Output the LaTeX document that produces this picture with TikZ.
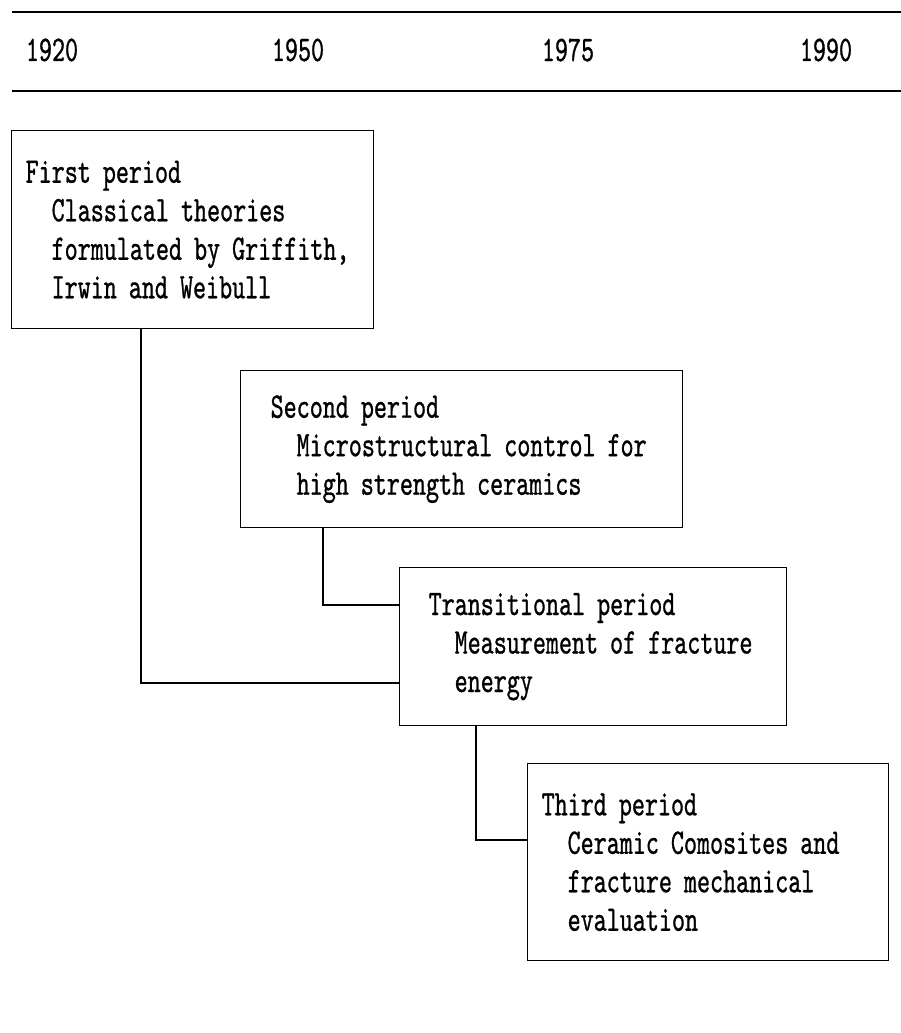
\documentclass[tikz,border=0pt]{standalone}
\usepackage{fontspec}
\newfontfamily\periodfont{lmmono10-regular}[Extension=.otf,FakeStretch=0.69,FakeBold=0.8]
\usepackage{tikz}
\usetikzlibrary{positioning}
\tikzset{>=latex}
\tikzstyle{period} = [rectangle, draw, line width=1.3pt, anchor=north west, align=left, font={\fontsize{36}{38.5}\periodfont}]
\tikzstyle{year} = [font={\fontsize{36}{38.5}\periodfont}]
\tikzstyle{rule} = [line width=2.2pt]
\tikzstyle{link} = [-, line width=1.3pt]
\newcommand{\ind}{\hspace*{26pt}}

\begin{document}
\begin{tikzpicture}[x=1pt, y=-1pt]
\useasboundingbox (0,0) rectangle (901,1033);
% time axis
\draw [rule] (12,12) -- (901,12);
\draw [rule] (12,91) -- (901,91);
\node [year] (y1920) at (52,50) {1920};
\node [year] (y1950) at (298,50) {1950};
\node [year] (y1975) at (568,50) {1975};
\node [year] (y1990) at (826,50) {1990};
% periods
\node [period, minimum width=362pt, minimum height=198pt, inner xsep=14pt, text width=334pt] (first) at (11,130)
  {First period\\ \ind Classical theories\\ \ind formulated by Griffith,\\ \ind Irwin and Weibull};
\node [period, minimum width=442pt, minimum height=157pt, inner xsep=30pt, text width=382pt] (second) at (240,370)
  {Second period\\ \ind Microstructural control for\\ \ind high strength ceramics};
\node [period, minimum width=387pt, minimum height=158pt, inner xsep=29pt, text width=329pt] (trans) at (399,567)
  {Transitional period\\ \ind Measurement of fracture\\ \ind energy};
\node [period, minimum width=361pt, minimum height=197pt, inner xsep=14pt, text width=333pt] (third) at (527,763)
  {Third period\\ \ind Ceramic Comosites and\\ \ind fracture mechanical\\ \ind evaluation};
% links
\draw [link] ([xshift=130pt]first.south west) |- ([yshift=-116pt]trans.north west);
\draw [link] ([xshift=83pt]second.south west) |- ([yshift=-38pt]trans.north west);
\draw [link] ([xshift=77pt]trans.south west) |- ([yshift=-77pt]third.north west);
\end{tikzpicture}
\end{document}
